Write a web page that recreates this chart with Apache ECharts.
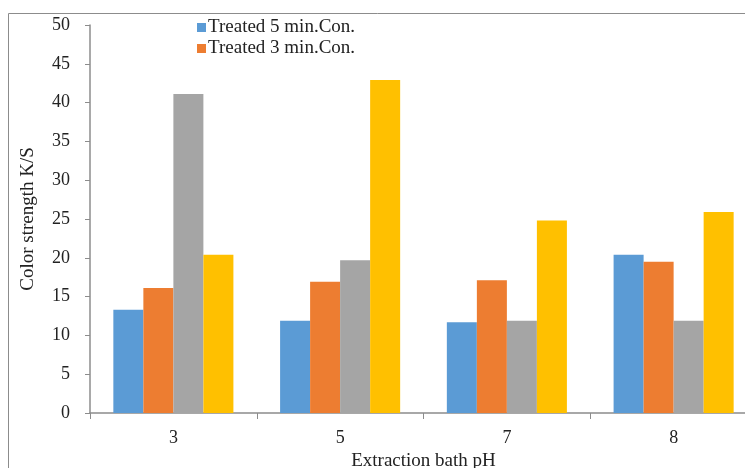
<!DOCTYPE html>
<html>
<head>
<meta charset="utf-8">
<script src="https://cdn.jsdelivr.net/npm/echarts@6/dist/echarts.min.js"></script>
<style>html,body{margin:0;padding:0;background:#fff;}#c{width:745px;height:468px;}</style>
</head>
<body>
<div id="c"></div>
<script>
const categories = ['3', '5', '7', '8'];
const seriesNames = ['Treated 5 min.Con.', 'Treated 3 min.Con.', 'Series 3', 'Series 4'];
const treated5 = [13.3, 11.9, 11.7, 20.4];
const treated3 = [16.1, 16.9, 17.1, 19.5];
const series3 = [41.1, 19.7, 11.9, 11.9];
const series4 = [20.4, 42.9, 24.8, 25.9];
const yTicks = [0, 5, 10, 15, 20, 25, 30, 35, 40, 45, 50];

const colors = ['#5B9BD5', '#ED7D31', '#A5A5A5', '#FFC000'];
const values = [treated5, treated3, series3, series4];
const font = 'Liberation Serif';

const chart = echarts.init(document.getElementById('c'));
chart.setOption({
  animation: false,
  textStyle: { fontFamily: font },
  graphic: [{
    type: 'rect', silent: true, z: -1,
    shape: { x: 8.5, y: 13.5, width: 800, height: 500 },
    style: { fill: 'none', stroke: '#8c8c8c', lineWidth: 1 }
  }],
  legend: {
    data: seriesNames.slice(0, 2),
    orient: 'vertical',
    left: 192, top: 13,
    itemWidth: 9, itemHeight: 9, itemGap: 2,
    icon: 'rect',
    textStyle: { fontFamily: font, fontSize: 19, color: '#222', padding: [0, 0, 0, -3] }
  },
  grid: { left: 90, top: 25, width: 667, height: 388, outerBoundsMode: 'none', containLabel: false },
  xAxis: {
    type: 'category', data: categories,
    name: 'Extraction bath pH', nameLocation: 'middle', nameGap: 37,
    nameTextStyle: { fontFamily: font, fontSize: 19, color: '#222' },
    axisLine: { lineStyle: { color: '#8c8c8c', width: 1.5 } },
    axisTick: { show: true, length: 6, lineStyle: { color: '#8c8c8c' } },
    axisLabel: { fontFamily: font, fontSize: 18, color: '#222', margin: 16 }
  },
  yAxis: {
    type: 'value', min: yTicks[0], max: yTicks[yTicks.length - 1], interval: 5,
    name: 'Color strength K/S', nameLocation: 'middle', nameGap: 52,
    nameTextStyle: { fontFamily: font, fontSize: 19, color: '#222' },
    axisLine: { show: true, lineStyle: { color: '#8c8c8c', width: 1.5 } },
    axisTick: { show: true, length: 5, lineStyle: { color: '#8c8c8c' } },
    splitLine: { show: false },
    axisLabel: { fontFamily: font, fontSize: 18, color: '#222', margin: 20 }
  },
  series: values.map((v, i) => ({
    name: seriesNames[i], type: 'bar', data: v,
    itemStyle: { color: colors[i] },
    barGap: '0%', barCategoryGap: '28%'
  }))
});
</script>
</body>
</html>
